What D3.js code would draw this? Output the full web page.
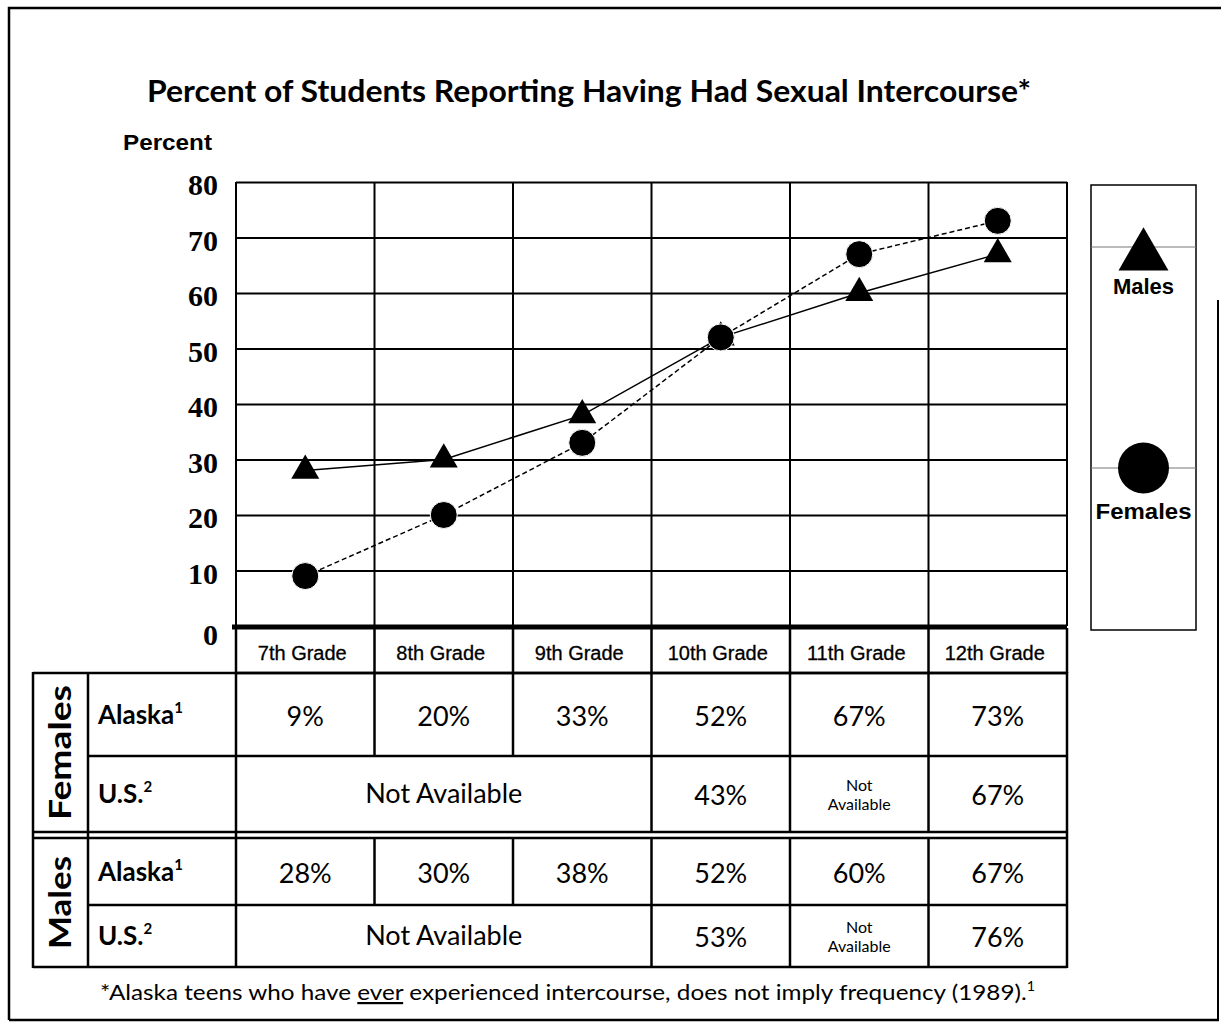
<!DOCTYPE html>
<html><head><meta charset="utf-8">
<script src="https://cdn.jsdelivr.net/npm/d3@7"></script>
<style>
html,body{margin:0;padding:0;background:#fff;}
svg{display:block;}
</style></head>
<body>
<script>
const grades = ["7th Grade","8th Grade","9th Grade","10th Grade","11th Grade","12th Grade"];
const femalesAlaska = [9,20,33,52,67,73];
const femalesUS = [null,null,null,43,null,67];
const malesAlaska = [28,30,38,52,60,67];
const malesUS = [null,null,null,53,null,76];
const yTicks = [0,10,20,30,40,50,60,70,80];
const titleText = "Percent of Students Reporting Having Had Sexual Intercourse*";

const W = 1221, H = 1027;
const svg = d3.select("body").append("svg").attr("width", W).attr("height", H);
const HUM = "Lato, 'Open Sans', sans-serif";
const ARIAL = "'Liberation Sans', Arial, sans-serif";
const SERIF = "'Liberation Serif', 'Times New Roman', serif";

// outer frame
svg.append("path").attr("d","M9,1020 L9,8 L1221,8").attr("fill","none").attr("stroke","#000").attr("stroke-width",2.5);
svg.append("line").attr("x1",9).attr("x2",1219).attr("y1",1020).attr("y2",1020).attr("stroke","#000").attr("stroke-width",2.5);
svg.append("line").attr("x1",1218).attr("x2",1218).attr("y1",300).attr("y2",1020).attr("stroke","#000").attr("stroke-width",2);

// title
svg.append("text").attr("x",147).attr("y",102).attr("font-family",HUM).attr("font-weight",700)
  .attr("font-size",31).attr("textLength",884).attr("lengthAdjust","spacingAndGlyphs").text(titleText);
svg.append("text").attr("x",123).attr("y",150).attr("font-family",ARIAL).attr("font-weight",700)
  .attr("font-size",22).attr("textLength",89).attr("lengthAdjust","spacingAndGlyphs").text("Percent");

// scales
const x = d3.scaleBand().domain(grades).range([236,1067]);
const y = d3.scaleLinear().domain([0,80]).range([626,182]);
const cx = g => x(g) + x.bandwidth()/2;

// grid
const g = svg.append("g");
g.append("g").attr("transform","translate(236,0)")
  .call(d3.axisLeft(y).tickValues(yTicks).tickSize(-(1067-236)).tickPadding(18).tickFormat(d3.format("d")))
  .call(a => a.select(".domain").remove())
  .call(a => a.selectAll(".tick line").attr("stroke","#000").attr("stroke-width",2))
  .call(a => a.selectAll(".tick text").attr("font-family",SERIF).attr("font-weight",700)
      .attr("font-size",30).attr("fill","#000").attr("dy",d => d===0 ? "0.62em" : "0.42em"));
// vertical grid lines
g.selectAll("line.v").data(grades.concat(["end"])).join("line")
  .attr("x1",(d,i)=> i<grades.length ? x(d) : 1067).attr("x2",(d,i)=> i<grades.length ? x(d) : 1067)
  .attr("y1",y(80)).attr("y2",y(0)).attr("stroke","#000").attr("stroke-width",2);
// thick baseline
g.append("line").attr("x1",232).attr("x2",1067).attr("y1",y(0)+1).attr("y2",y(0)+1)
  .attr("stroke","#000").attr("stroke-width",5);

// series lines
const line = d3.line().x((d,i)=>cx(grades[i])).y(d=>y(d));
svg.append("path").attr("d",line(malesAlaska)).attr("fill","none").attr("stroke","#000").attr("stroke-width",1.5);
svg.append("path").attr("d",line(femalesAlaska)).attr("fill","none").attr("stroke","#000").attr("stroke-width",1.5).attr("stroke-dasharray","5,3");

// markers
svg.selectAll("path.tri").data(malesAlaska).join("path")
  .attr("d",d3.symbol(d3.symbolTriangle).size(340))
  .attr("transform",(d,i)=>`translate(${cx(grades[i])},${y(d)})`).attr("fill","#000");
svg.selectAll("circle.fem").data(femalesAlaska).join("circle")
  .attr("cx",(d,i)=>cx(grades[i])).attr("cy",d=>y(d)).attr("r",13.5).attr("fill","#000")
  .attr("stroke","#fff").attr("stroke-width",1);

// legend
const lg = svg.append("g");
lg.append("rect").attr("x",1091).attr("y",185).attr("width",105).attr("height",445)
  .attr("fill","none").attr("stroke","#000").attr("stroke-width",1.5);
lg.append("line").attr("x1",1091).attr("x2",1196).attr("y1",247).attr("y2",247).attr("stroke","#777").attr("stroke-width",1);
lg.append("line").attr("x1",1091).attr("x2",1196).attr("y1",468).attr("y2",468).attr("stroke","#777").attr("stroke-width",1);
lg.append("path").attr("d",d3.symbol(d3.symbolTriangle).size(1080)).attr("transform","translate(1143.5,256)").attr("fill","#000");
lg.append("circle").attr("cx",1143.5).attr("cy",468).attr("r",25.5).attr("fill","#000");
lg.append("text").attr("x",1143.5).attr("y",294).attr("text-anchor","middle").attr("font-family",ARIAL)
  .attr("font-weight",700).attr("font-size",22).text("Males");
lg.append("text").attr("x",1143.5).attr("y",519).attr("text-anchor","middle").attr("font-family",ARIAL)
  .attr("font-weight",700).attr("font-size",22).attr("textLength",96).attr("lengthAdjust","spacingAndGlyphs").text("Females");

// table
const t = svg.append("g");
const SW = 2.5;
const hl = (x1,x2,yy,w) => t.append("line").attr("x1",x1).attr("x2",x2).attr("y1",yy).attr("y2",yy).attr("stroke","#000").attr("stroke-width",w||SW);
const vl = (xx,y1,y2,w) => t.append("line").attr("x1",xx).attr("x2",xx).attr("y1",y1).attr("y2",y2).attr("stroke","#000").attr("stroke-width",w||SW);
const colEdges = grades.map(d=>x(d)).concat([1067]);
// header
hl(236,1067,673);
colEdges.forEach(e => vl(e,628,673));
grades.forEach(gr => t.append("text").attr("x",cx(gr)-3).attr("y",660).attr("text-anchor","middle")
  .attr("font-family",ARIAL).attr("font-size",20).attr("stroke","#000").attr("stroke-width",0.3).text(gr));

const rows = [
  {group:"Females", label:"Alaska", sup:"1", vals:femalesAlaska, top:673, bot:756},
  {group:"Females", label:"U.S.", sup:"2", vals:femalesUS, top:756, bot:832},
  {group:"Males", label:"Alaska", sup:"1", vals:malesAlaska, top:838, bot:905},
  {group:"Males", label:"U.S.", sup:"2", vals:malesUS, top:905, bot:967}
];
// horizontal lines
hl(33,1067,673);
hl(88,1067,756);
hl(33,1067,832);
hl(33,1067,838);
hl(88,1067,905);
hl(33,1067,967);
// vertical outer / label lines
vl(33,672,968); vl(88,672,968); vl(236,672,968); vl(1067,672,968);
rows.forEach(r => {
  colEdges.slice(1,-1).forEach((e,i) => {
    const left = r.vals[i], right = r.vals[i+1];
    if (left === null && right === null && i < 2) return; // merged span
    vl(e, r.top, r.bot);
  });
  const mid = (r.top + r.bot)/2;
  const lt = t.append("text").attr("x",98).attr("y",mid+9).attr("font-family",HUM).attr("font-weight",700).attr("font-size",26);
  lt.append("tspan").text(r.label);
  lt.append("tspan").attr("dy",-11).attr("font-size",15).text(r.sup);
  r.vals.forEach((v,i) => {
    if (v !== null) {
      t.append("text").attr("x",cx(grades[i])).attr("y",mid+11).attr("text-anchor","middle")
        .attr("font-family",HUM).attr("font-size",27).text(v + "%");
    } else if (i === 4) {
      t.append("text").attr("x",cx(grades[i])).attr("y",mid-3).attr("text-anchor","middle")
        .attr("font-family",HUM).attr("font-size",16).text("Not");
      t.append("text").attr("x",cx(grades[i])).attr("y",mid+16).attr("text-anchor","middle")
        .attr("font-family",HUM).attr("font-size",16).text("Available");
    } else if (i === 1) {
      t.append("text").attr("x",cx(grades[1])).attr("y",mid+9).attr("text-anchor","middle")
        .attr("font-family",HUM).attr("font-size",27).text("Not Available");
    }
  });
});
// group labels (rotated)
[["Females",673,832,135],["Males",838,967,93]].forEach(([lab,a,b,len]) => {
  t.append("text").attr("transform",`translate(71,${(a+b)/2}) rotate(-90)`).attr("text-anchor","middle")
    .attr("font-family",HUM).attr("font-weight",700).attr("font-size",30)
    .attr("textLength",len).attr("lengthAdjust","spacingAndGlyphs").text(lab);
});

// footnote
const fn = svg.append("text").attr("x",100).attr("y",1000).attr("font-family",HUM).attr("font-size",22)
  .attr("textLength",935).attr("lengthAdjust","spacingAndGlyphs");
fn.append("tspan").text("*Alaska teens who have ");
fn.append("tspan").attr("text-decoration","underline").text("ever");
fn.append("tspan").text(" experienced intercourse, does not imply frequency (1989).");
fn.append("tspan").attr("dy",-9).attr("font-size",13).text("1");
</script>
</body></html>
